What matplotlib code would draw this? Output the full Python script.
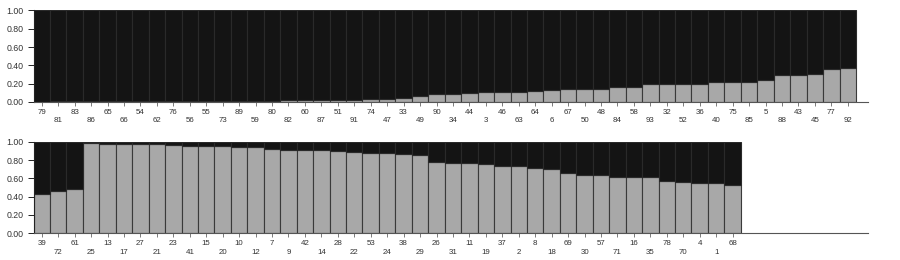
import matplotlib
matplotlib.use("Agg")
import matplotlib.pyplot as plt

plt.rcParams['font.family'] = ['Liberation Sans', 'DejaVu Sans']

# === Data ===
top_labels = [79, 81, 83, 86, 65, 66, 54, 62, 76, 56, 55, 73, 89, 59, 80, 82, 60, 87, 51, 91,
              74, 47, 33, 49, 90, 34, 44, 3, 46, 63, 64, 6, 67, 50, 48, 84, 58, 93, 32, 52,
              36, 40, 75, 85, 5, 88, 43, 45, 77, 92]
top_gray = [0.004, 0.006, 0.007, 0.007, 0.008, 0.008, 0.009, 0.009, 0.015, 0.015,
            0.015, 0.015, 0.016, 0.016, 0.016, 0.017, 0.018, 0.02, 0.021, 0.025,
            0.03, 0.031, 0.042, 0.07, 0.085, 0.091, 0.096, 0.113, 0.113, 0.114,
            0.12, 0.128, 0.143, 0.143, 0.144, 0.168, 0.168, 0.194, 0.195, 0.195,
            0.2, 0.216, 0.223, 0.224, 0.238, 0.293, 0.294, 0.304, 0.366, 0.377]

bot_labels = [39, 72, 61, 25, 13, 17, 27, 21, 23, 41, 15, 20, 10, 12, 7, 9, 42, 14, 28, 22,
              53, 24, 38, 29, 26, 31, 11, 19, 37, 2, 8, 18, 69, 30, 57, 71, 16, 35, 78, 70,
              4, 1, 68]
bot_gray = [0.43, 0.466, 0.48, 0.99, 0.98, 0.97, 0.97, 0.97, 0.965, 0.957,
            0.953, 0.953, 0.94, 0.94, 0.92, 0.913, 0.912, 0.91, 0.90, 0.89,
            0.88, 0.873, 0.866, 0.86, 0.775, 0.771, 0.764, 0.753, 0.739, 0.739,
            0.713, 0.706, 0.659, 0.637, 0.633, 0.62, 0.62, 0.615, 0.57, 0.56,
            0.55, 0.546, 0.528]

n_slots = 50
black = "#141414"
gray = "#a8a8a8"

fig = plt.figure(figsize=(9, 2.6), dpi=100)


def structure_panel(pos, labels, vals):
    ax = fig.add_axes(pos)
    x = list(range(len(vals)))
    rest = [1 - v for v in vals]
    ax.bar(x, vals, width=1.0, align="edge", color=gray, edgecolor="#3a3a3a", linewidth=0.8)
    ax.bar(x, rest, bottom=vals, width=1.0, align="edge", color=black,
           edgecolor="#2a2a2a", linewidth=0.8)
    ax.set_xlim(0, n_slots + 0.73)
    ax.set_ylim(0, 1)
    ax.spines["top"].set_visible(False)
    ax.spines["right"].set_visible(False)
    ax.spines["left"].set_color("#222222")
    ax.spines["bottom"].set_color("#555555")
    ax.set_yticks([0, 0.2, 0.4, 0.6, 0.8, 1.0])
    ax.set_yticklabels(["%.2f" % t for t in [0, 0.2, 0.4, 0.6, 0.8, 1.0]])
    ax.set_xticks([i + 0.5 for i in x])
    ax.set_xticklabels([str(l) if i % 2 == 0 else "\n" + str(l) for i, l in enumerate(labels)],
                       linespacing=1.3)
    ax.tick_params(axis="y", length=4, width=0.7, color="#222222", labelsize=6.3,
                   labelcolor="#333333", pad=3)
    ax.tick_params(axis="x", length=3, width=0.6, color="#666666", labelsize=5.7,
                   labelcolor="#333333", pad=2)
    return ax


structure_panel([33.5 / 900, 1 - 102 / 260, 834.5 / 900, 91.5 / 260], top_labels, top_gray)
structure_panel([33.5 / 900, 1 - 233.3 / 260, 834.5 / 900, 91.6 / 260], bot_labels, bot_gray)

plt.savefig("out.png", dpi=100)
